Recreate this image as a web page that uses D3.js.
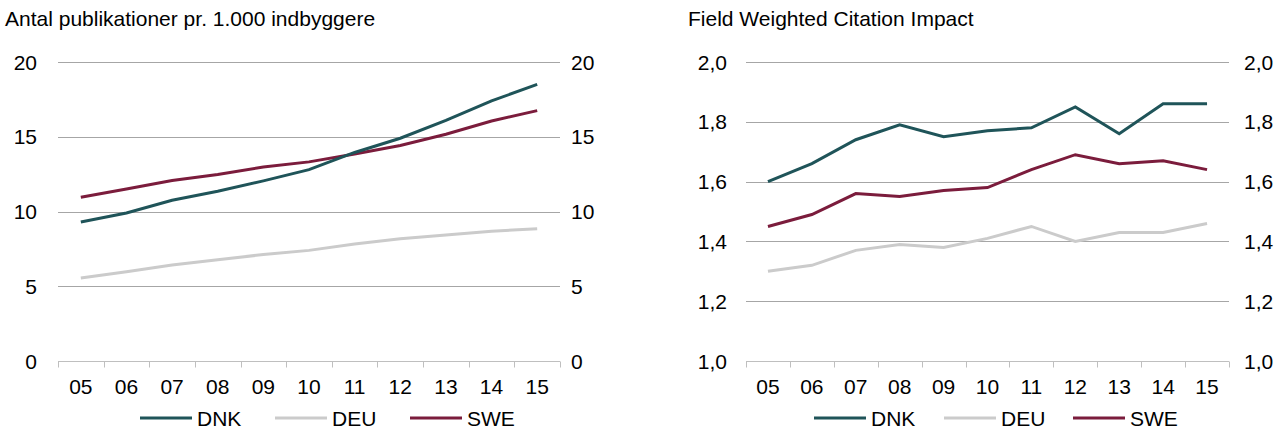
<!DOCTYPE html>
<html><head><meta charset="utf-8">
<script src="https://cdn.jsdelivr.net/npm/d3@7"></script>
<style>
html,body{margin:0;padding:0;background:#fff;}
svg{display:block;font-family:"Liberation Sans",Arial,sans-serif;}
</style></head>
<body>
<svg id="c" width="1286" height="433"></svg>
<script>
const years = ["05","06","07","08","09","10","11","12","13","14","15"];
const seriesNames = ["DNK","DEU","SWE"];
const colors = ["#1f5459","#cbcbcb","#7b1c3c"];

const pubDNK = [9.3,9.9,10.75,11.35,12.05,12.8,13.95,14.9,16.1,17.4,18.5];
const pubDEU = [5.55,5.97,6.42,6.78,7.12,7.4,7.82,8.17,8.43,8.68,8.85];
const pubSWE = [10.95,11.5,12.08,12.48,12.97,13.32,13.85,14.42,15.17,16.05,16.75];
const pubTicks = [0,5,10,15,20];

const fwciDNK = [1.60,1.66,1.74,1.79,1.75,1.77,1.78,1.85,1.76,1.86,1.86];
const fwciDEU = [1.30,1.32,1.37,1.39,1.38,1.41,1.45,1.40,1.43,1.43,1.46];
const fwciSWE = [1.45,1.49,1.56,1.55,1.57,1.58,1.64,1.69,1.66,1.67,1.64];
const fwciTicks = [1.0,1.2,1.4,1.6,1.8,2.0];

const svg = d3.select("#c");
const FS = 21;

function panel(cfg){
  const g = svg.append("g");
  const x = d3.scaleBand().domain(years).range([cfg.x0, cfg.x1]);
  const y = d3.scaleLinear().domain(cfg.domain).range([361, 62]);
  g.append("text").attr("x", cfg.titleX).attr("y", 26).attr("font-size", FS)
    .attr("fill","#000").text(cfg.title);
  g.selectAll(".grid").data(cfg.ticks.filter(t=>t!==cfg.domain[0])).enter().append("line")
    .attr("x1", cfg.x0).attr("x2", cfg.x1)
    .attr("y1", d=>Math.round(y(d))+0.5).attr("y2", d=>Math.round(y(d))+0.5)
    .attr("stroke","#a6a6a6").attr("stroke-width",1);
  const yb = Math.round(y(cfg.domain[0]))+0.5;
  g.append("line").attr("x1",cfg.x0).attr("x2",cfg.x1).attr("y1",yb).attr("y2",yb)
    .attr("stroke","#bfbfbf").attr("stroke-width",1);
  const tickXs = years.map(d=>x(d)).concat([cfg.x1]);
  g.selectAll(".tk").data(tickXs).enter().append("line")
    .attr("x1",d=>Math.round(d)+0.5).attr("x2",d=>Math.round(d)+0.5)
    .attr("y1",yb).attr("y2",yb+6).attr("stroke","#bfbfbf");
  g.selectAll(".yl").data(cfg.ticks).enter().append("text")
    .attr("x", cfg.lx).attr("y", d=>y(d)+7.5).attr("text-anchor","end").attr("font-size",FS)
    .text(cfg.fmt);
  g.selectAll(".yr").data(cfg.ticks).enter().append("text")
    .attr("x", cfg.rx).attr("y", d=>y(d)+7.5).attr("text-anchor","start").attr("font-size",FS)
    .text(cfg.fmt);
  g.selectAll(".xl").data(years).enter().append("text")
    .attr("x", d=>x(d)+x.bandwidth()/2).attr("y", 394).attr("text-anchor","middle")
    .attr("font-size",FS).text(d=>d);
  const line = d3.line().x((d,i)=>x(years[i])+x.bandwidth()/2).y(d=>y(d));
  [1,2,0].forEach(k=>{
    g.append("path").attr("d", line(cfg.data[k])).attr("fill","none")
      .attr("stroke", colors[k]).attr("stroke-width",3).attr("stroke-linejoin","miter");
  });
  seriesNames.forEach((n,k)=>{
    const lx = cfg.legX[k];
    g.append("line").attr("x1",lx).attr("x2",lx+52).attr("y1",418).attr("y2",418)
      .attr("stroke",colors[k]).attr("stroke-width",3);
    g.append("text").attr("x",lx+57).attr("y",425.5).attr("font-size",FS).text(n);
  });
}

panel({x0:58, x1:560, domain:[0,20], ticks:pubTicks, title:"Antal publikationer pr. 1.000 indbyggere",
  titleX:5, lx:37, rx:571, fmt:d=>d3.format("d")(d),
  data:[pubDNK,pubDEU,pubSWE], legX:[140,275,410]});
panel({x0:746, x1:1229, domain:[1.0,2.0], ticks:fwciTicks, title:"Field Weighted Citation Impact",
  titleX:688, lx:727, rx:1244, fmt:d=>d3.format(".1f")(d).replace(".",","),
  data:[fwciDNK,fwciDEU,fwciSWE], legX:[814,944,1073]});
</script>
</body></html>
